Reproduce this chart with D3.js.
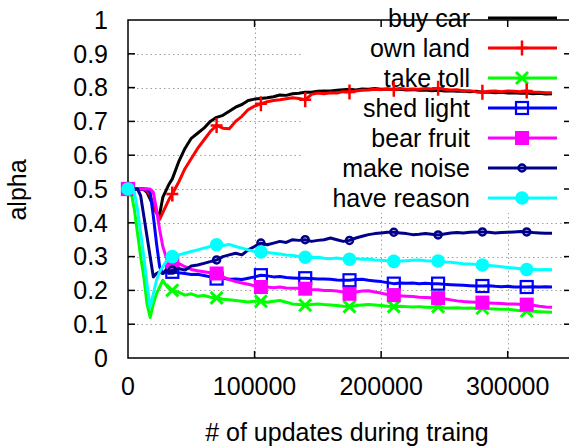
<!DOCTYPE html>
<html><head><meta charset="utf-8">
<script src="https://cdn.jsdelivr.net/npm/d3@7"></script>
<style>body{margin:0;background:#fff}svg{display:block}text{font-family:"Liberation Sans",Arial,sans-serif;fill:#000}</style>
</head><body>
<svg id="c" width="569" height="446"></svg>
<script>
const updates = [
0,2500,5000,7500,10000,12500,15000,17500,20000,22500,25000,27500,30000,32500,
35000,40000,45000,50000,55000,60000,65000,70000,75000,80000,85000,90000,95000,100000,
105000,110000,115000,120000,125000,130000,135000,140000,145000,150000,155000,160000,165000,170000,
175000,180000,185000,190000,195000,200000,205000,210000,215000,220000,225000,230000,235000,240000,
245000,250000,255000,260000,265000,270000,275000,280000,285000,290000,295000,300000,305000,310000,
315000,320000,325000,330000,335000];

const buyCar = [
0.5,0.5,0.5,0.5,0.5,0.498,0.49,0.47,0.45,0.43,0.425,0.475,0.495,0.515,
0.53,0.58,0.62,0.65,0.665,0.68,0.7,0.712,0.718,0.73,0.742,0.75,0.762,0.766,
0.768,0.77,0.773,0.778,0.777,0.782,0.783,0.786,0.786,0.789,0.79,0.79,0.792,0.794,
0.795,0.793,0.796,0.795,0.797,0.795,0.796,0.794,0.795,0.793,0.794,0.792,0.793,0.791,
0.792,0.79,0.791,0.789,0.79,0.788,0.789,0.786,0.787,0.785,0.786,0.784,0.785,0.783,
0.784,0.782,0.783,0.781,0.782];
const ownLand = [
0.5,0.5,0.5,0.5,0.5,0.5,0.495,0.48,0.455,0.43,0.41,0.43,0.45,0.47,
0.485,0.52,0.56,0.59,0.62,0.645,0.67,0.688,0.68,0.678,0.7,0.715,0.735,0.745,
0.752,0.758,0.762,0.764,0.767,0.77,0.768,0.764,0.78,0.784,0.782,0.785,0.784,0.788,
0.787,0.79,0.792,0.793,0.795,0.794,0.796,0.795,0.797,0.795,0.796,0.795,0.797,0.796,
0.798,0.795,0.793,0.794,0.79,0.791,0.788,0.786,0.789,0.79,0.788,0.79,0.789,0.788,
0.79,0.787,0.786,0.785,0.785];
const takeToll = [
0.5,0.49,0.44,0.37,0.3,0.24,0.16,0.12,0.16,0.19,0.21,0.23,0.215,0.205,
0.2,0.195,0.186,0.19,0.183,0.185,0.18,0.178,0.174,0.172,0.17,0.168,0.166,0.168,
0.168,0.165,0.168,0.17,0.165,0.16,0.158,0.156,0.158,0.16,0.158,0.157,0.155,0.153,
0.152,0.155,0.157,0.158,0.157,0.155,0.153,0.152,0.153,0.152,0.151,0.152,0.15,0.15,
0.152,0.149,0.148,0.149,0.147,0.148,0.147,0.147,0.146,0.145,0.144,0.144,0.142,0.14,
0.139,0.138,0.137,0.136,0.135];
const shedLight = [
0.5,0.5,0.5,0.5,0.5,0.5,0.5,0.49,0.42,0.34,0.27,0.25,0.255,0.25,
0.255,0.252,0.25,0.247,0.248,0.244,0.24,0.235,0.236,0.233,0.234,0.232,0.236,0.24,
0.245,0.243,0.24,0.241,0.238,0.237,0.236,0.236,0.235,0.234,0.234,0.233,0.231,0.23,
0.23,0.232,0.233,0.23,0.228,0.226,0.223,0.22,0.222,0.221,0.222,0.22,0.221,0.22,
0.22,0.218,0.217,0.216,0.215,0.214,0.213,0.213,0.214,0.212,0.211,0.212,0.21,0.21,
0.21,0.211,0.21,0.211,0.21];
const bearFruit = [
0.5,0.5,0.5,0.5,0.5,0.5,0.5,0.5,0.49,0.44,0.38,0.33,0.3,0.29,
0.285,0.28,0.27,0.262,0.258,0.255,0.252,0.25,0.24,0.232,0.226,0.222,0.218,0.214,
0.21,0.21,0.208,0.21,0.207,0.206,0.206,0.205,0.203,0.202,0.2,0.2,0.198,0.195,
0.19,0.195,0.198,0.199,0.195,0.192,0.188,0.186,0.184,0.183,0.182,0.18,0.179,0.178,
0.177,0.175,0.172,0.169,0.167,0.166,0.165,0.164,0.163,0.162,0.161,0.16,0.16,0.159,
0.158,0.156,0.153,0.151,0.15];
const makeNoise = [
0.5,0.5,0.5,0.5,0.48,0.42,0.36,0.3,0.24,0.25,0.255,0.25,0.26,0.255,
0.26,0.265,0.26,0.272,0.275,0.28,0.285,0.29,0.3,0.305,0.31,0.305,0.32,0.33,
0.34,0.335,0.34,0.345,0.342,0.35,0.348,0.35,0.345,0.348,0.35,0.355,0.35,0.345,
0.348,0.355,0.36,0.365,0.368,0.37,0.372,0.372,0.37,0.368,0.365,0.366,0.368,0.366,
0.364,0.367,0.37,0.371,0.37,0.372,0.373,0.373,0.372,0.37,0.371,0.372,0.373,0.374,
0.373,0.371,0.37,0.369,0.369];
const haveReason = [
0.5,0.5,0.49,0.44,0.37,0.3,0.22,0.15,0.19,0.23,0.255,0.27,0.285,0.295,
0.3,0.305,0.31,0.315,0.32,0.325,0.33,0.335,0.333,0.336,0.33,0.325,0.32,0.315,
0.314,0.312,0.31,0.308,0.305,0.303,0.3,0.298,0.297,0.298,0.295,0.294,0.296,0.293,
0.292,0.294,0.292,0.293,0.29,0.289,0.288,0.286,0.287,0.288,0.289,0.29,0.288,0.287,
0.287,0.284,0.283,0.281,0.279,0.278,0.277,0.275,0.274,0.272,0.27,0.268,0.266,0.264,
0.262,0.262,0.261,0.262,0.261];

const seriesNames = ["buy car","own land","take toll","shed light","bear fruit","make noise","have reason"];
const seriesValues = [buyCar, ownLand, takeToll, shedLight, bearFruit, makeNoise, haveReason];
const seriesColors = ["#000000","#ff0000","#00ff00","#0000ff","#ff00ff","#00008b","#00ffff"];
const seriesMarkers = ["none","plus","cross","square","filledSquare","circle","filledCircle"];
const xTicks = [0,100000,200000,300000];
const yTicks = [0,0.1,0.2,0.3,0.4,0.5,0.6,0.7,0.8,0.9,1];
const markerEvery = 35000;

const svg = d3.select("#c");
const x = d3.scaleLinear().domain([0,350000]).range([128,571]);
const y = d3.scaleLinear().domain([0,1]).range([358,20]);

// grid
const grid = svg.append("g").attr("stroke","#a0a0a0").attr("stroke-width",1).attr("stroke-dasharray","1.5,3");
yTicks.filter(v=>v>0&&v<1).forEach(v=>{
  grid.append("line").attr("x1",x(0)).attr("x2",x(350000)).attr("y1",Math.round(y(v))+0.5).attr("y2",Math.round(y(v))+0.5);
});
xTicks.filter(v=>v>0).forEach(v=>{
  grid.append("line").attr("x1",Math.round(x(v))+0.5).attr("x2",Math.round(x(v))+0.5).attr("y1",y(0)).attr("y2",y(1));
});

// legend background
svg.append("rect").attr("x",303).attr("y",21).attr("width",270).attr("height",192).attr("fill","#fff");

// axes frame and ticks
const fr = svg.append("g").attr("stroke","#000").attr("stroke-width",1.5).attr("fill","none");
fr.append("path").attr("d",`M${x(350000)},${y(1)}H${x(0)}V${y(0)}H${x(350000)}V${y(1)}`);
yTicks.filter(v=>v>0&&v<1).forEach(v=>{
  fr.append("line").attr("x1",x(0)).attr("x2",x(0)+7).attr("y1",y(v)).attr("y2",y(v));
  fr.append("line").attr("x1",x(350000)).attr("x2",x(350000)-7).attr("y1",y(v)).attr("y2",y(v));
});
xTicks.filter(v=>v>0).forEach(v=>{
  fr.append("line").attr("x1",x(v)).attr("x2",x(v)).attr("y1",y(0)).attr("y2",y(0)-7);
  fr.append("line").attr("x1",x(v)).attr("x2",x(v)).attr("y1",y(1)).attr("y2",y(1)+7);
});

// tick labels
const fs = 25;
svg.append("g").selectAll("text").data(yTicks).join("text")
  .attr("x",108).attr("y",d=>y(d)).attr("dy","0.35em").attr("text-anchor","end")
  .attr("font-size",fs).text(d=>String(d));
svg.append("g").selectAll("text").data(xTicks).join("text")
  .attr("x",d=>x(d)).attr("y",395).attr("text-anchor","middle")
  .attr("font-size",fs).text(d=>String(d));
svg.append("text").attr("transform","translate(26,190) rotate(-90)").attr("text-anchor","middle").attr("font-size",fs).text("alpha");
svg.append("text").attr("x",347).attr("y",441).attr("text-anchor","middle").attr("font-size",fs).text("# of updates during traing");

function drawMarker(g, type, cx, cy, color){
  const s = 6;
  if(type==="plus"){
    g.append("path").attr("d",`M${cx-s},${cy}H${cx+s}M${cx},${cy-7.5}V${cy+7.5}`).attr("stroke",color).attr("stroke-width",2.5).attr("fill","none");
  } else if(type==="cross"){
    g.append("path").attr("d",`M${cx-s},${cy-s}L${cx+s},${cy+s}M${cx-s},${cy+s}L${cx+s},${cy-s}`).attr("stroke",color).attr("stroke-width",3).attr("fill","none");
  } else if(type==="square"){
    g.append("rect").attr("x",cx-6).attr("y",cy-6).attr("width",12).attr("height",12).attr("stroke",color).attr("stroke-width",2.2).attr("fill","none");
  } else if(type==="filledSquare"){
    g.append("rect").attr("x",cx-7).attr("y",cy-7).attr("width",14).attr("height",14).attr("fill",color);
  } else if(type==="circle"){
    g.append("circle").attr("cx",cx).attr("cy",cy).attr("r",3.5).attr("stroke",color).attr("stroke-width",2.5).attr("fill","none");
  } else if(type==="filledCircle"){
    g.append("circle").attr("cx",cx).attr("cy",cy).attr("r",6.8).attr("fill",color);
  }
}

// legend
const lg = svg.append("g");
seriesNames.forEach((name,i)=>{
  const yy = 18 + 30*i;
  lg.append("text").attr("x",470).attr("y",yy).attr("dy","0.35em").attr("text-anchor","end").attr("font-size",fs).text(name);
  lg.append("line").attr("x1",488).attr("x2",557).attr("y1",yy).attr("y2",yy).attr("stroke",seriesColors[i]).attr("stroke-width",3);
  drawMarker(lg, seriesMarkers[i], 522, yy, seriesColors[i]);
});

// series
const line = d3.line().x(d=>x(d[0])).y(d=>y(d[1]));
seriesValues.forEach((vals,i)=>{
  const g = svg.append("g");
  const pts = updates.map((u,k)=>[u, vals[k]]);
  g.append("path").attr("d",line(pts)).attr("fill","none").attr("stroke",seriesColors[i]).attr("stroke-width",3).attr("stroke-linejoin","round");
  pts.filter(p=>p[0]%markerEvery===0).forEach(p=>drawMarker(g, seriesMarkers[i], x(p[0]), y(p[1]), seriesColors[i]));
});
</script>
</body></html>
